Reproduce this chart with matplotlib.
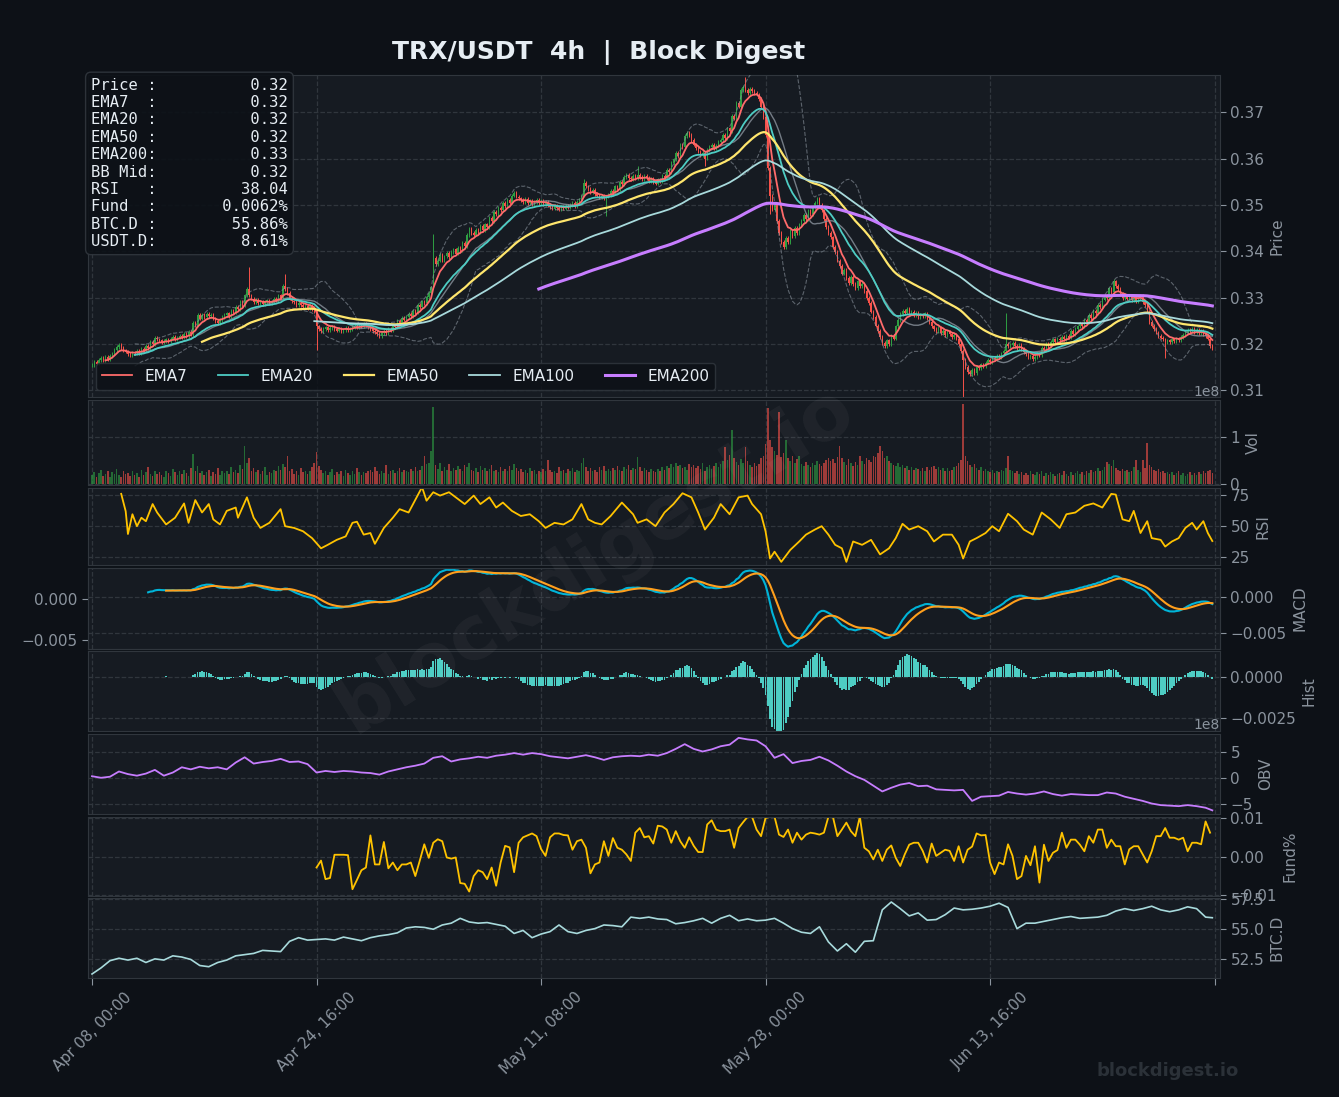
import numpy as np
import pandas as pd
import matplotlib
matplotlib.use("Agg")
import matplotlib.pyplot as plt
from matplotlib.ticker import MultipleLocator, FuncFormatter

# closes of the 500 4h candles, in units of 0.0001 USDT
close_e4 = [
    3155, 3162, 3158, 3166, 3170, 3165, 3172, 3168, 3175, 3180,
    3188, 3194, 3198, 3192, 3186, 3184, 3178, 3176, 3182, 3180,
    3186, 3181, 3190, 3186, 3196, 3192, 3205, 3200, 3214, 3210,
    3208, 3204, 3207, 3210, 3206, 3212, 3215, 3210, 3214, 3218,
    3216, 3221, 3217, 3226, 3222, 3245, 3240, 3262, 3255, 3262,
    3258, 3265, 3260, 3262, 3255, 3250, 3246, 3252, 3258, 3262,
    3266, 3260, 3272, 3268, 3280, 3276, 3290, 3285, 3305, 3318,
    3305, 3298, 3290, 3295, 3288, 3292, 3286, 3290, 3294, 3288,
    3292, 3298, 3294, 3305, 3300, 3325, 3318, 3310, 3298, 3292,
    3290, 3285, 3288, 3284, 3280, 3283, 3278, 3282, 3276, 3270,
    3238, 3232, 3228, 3232, 3236, 3230, 3234, 3238, 3232, 3229,
    3232, 3228, 3231, 3235, 3230, 3233, 3237, 3240, 3236, 3242,
    3238, 3244, 3240, 3236, 3232, 3228, 3226, 3222, 3218, 3224,
    3228, 3224, 3232, 3229, 3240, 3236, 3250, 3246, 3256, 3253,
    3258, 3265, 3261, 3272, 3268, 3284, 3279, 3292, 3288, 3302,
    3310, 3322, 3385, 3372, 3380, 3392, 3381, 3389, 3396, 3388,
    3398, 3404, 3395, 3408, 3402, 3418, 3412, 3435, 3448, 3440,
    3436, 3446, 3441, 3455, 3446, 3458, 3453, 3472, 3466, 3484,
    3480, 3494, 3489, 3504, 3498, 3510, 3505, 3520, 3526, 3518,
    3514, 3510, 3506, 3512, 3504, 3508, 3502, 3506, 3510, 3504,
    3508, 3502, 3506, 3500, 3496, 3492, 3498, 3494, 3490, 3496,
    3492, 3498, 3495, 3500, 3504, 3498, 3506, 3510, 3520, 3548,
    3540, 3535, 3528, 3532, 3524, 3520, 3516, 3520, 3514, 3518,
    3522, 3530, 3526, 3540, 3535, 3550, 3545, 3560, 3565, 3558,
    3555, 3562, 3558, 3565, 3560, 3556, 3562, 3558, 3552, 3556,
    3550, 3546, 3555, 3551, 3562, 3558, 3575, 3570, 3590, 3598,
    3612, 3606, 3630, 3625, 3648, 3655, 3650, 3640, 3630, 3622,
    3615, 3608, 3612, 3600, 3618, 3625, 3630, 3622, 3628, 3635,
    3640, 3650, 3645, 3665, 3660, 3692, 3686, 3720, 3712, 3748,
    3755, 3748, 3742, 3750, 3745, 3742, 3738, 3728, 3712, 3690,
    3650, 3580, 3520, 3490, 3500, 3465, 3440, 3420, 3410, 3428,
    3420, 3445, 3432, 3450, 3440, 3458, 3465, 3478, 3470, 3488,
    3480, 3495, 3505, 3512, 3500, 3488, 3470, 3452, 3440, 3430,
    3410, 3398, 3380, 3368, 3352, 3360, 3342, 3332, 3345, 3330,
    3320, 3335, 3325, 3330, 3315, 3300, 3288, 3270, 3258, 3240,
    3228, 3215, 3202, 3195, 3208, 3200, 3218, 3212, 3238, 3252,
    3265, 3272, 3268, 3275, 3266, 3270, 3262, 3268, 3258, 3264,
    3260, 3266, 3255, 3248, 3238, 3232, 3228, 3234, 3224, 3228,
    3220, 3226, 3222, 3216, 3220, 3212, 3200, 3185, 3165, 3150,
    3140, 3135, 3145, 3138, 3150, 3148, 3156, 3152, 3160, 3165,
    3162, 3170, 3168, 3175, 3172, 3180, 3185, 3200, 3195, 3198,
    3202, 3196, 3192, 3198, 3190, 3182, 3178, 3172, 3175, 3168,
    3172, 3180, 3176, 3192, 3187, 3200, 3196, 3205, 3210, 3204,
    3212, 3208, 3215, 3210, 3218, 3214, 3228, 3222, 3232, 3238,
    3244, 3239, 3252, 3248, 3262, 3257, 3272, 3266, 3285, 3280,
    3296, 3305, 3299, 3320, 3313, 3335, 3325, 3318, 3308, 3300,
    3305, 3298, 3302, 3295, 3300, 3292, 3298, 3304, 3290, 3285,
    3270, 3248, 3240, 3232, 3225, 3218, 3214, 3210, 3205, 3208,
    3204, 3210, 3206, 3212, 3208, 3215, 3220, 3225, 3230, 3228,
    3232, 3226, 3230, 3224, 3228, 3222, 3218, 3212, 3196, 3192,
]

# volume per candle, in millions
vol_m = [
    18, 25, 14, 22, 30, 16, 20, 27, 15, 24,
    21, 32, 18, 14, 26, 20, 23, 17, 28, 19,
    22, 15, 30, 18, 24, 35, 20, 16, 27, 21,
    25, 19, 14, 28, 22, 17, 31, 24, 18, 26,
    20, 29, 23, 16, 34, 63, 28, 38, 22, 26,
    19, 24, 30, 17, 25, 21, 33, 18, 27, 23,
    26, 20, 35, 24, 29, 22, 40, 31, 80, 45,
    55, 28, 33, 24, 30, 21, 27, 36, 19, 25,
    23, 30, 26, 38, 29, 42, 35, 60, 28, 32,
    21, 27, 19, 33, 24, 28, 20, 26, 35, 44,
    68, 38, 30, 22, 27, 19, 25, 31, 18, 24,
    20, 26, 17, 29, 22, 18, 27, 21, 33, 24,
    19, 25, 22, 28, 30, 24, 36, 27, 21, 26,
    23, 39, 20, 26, 30, 22, 28, 33, 25, 30,
    27, 24, 32, 28, 35, 26, 30, 38, 60, 42,
    45, 70, 166, 40, 32, 45, 28, 36, 30, 42,
    26, 34, 29, 38, 31, 27, 40, 35, 45, 30,
    28, 33, 25, 37, 29, 34, 27, 31, 39, 26,
    30, 25, 35, 28, 32, 26, 38, 30, 42, 33,
    27, 31, 24, 29, 22, 34, 26, 30, 21, 28,
    25, 32, 27, 51, 30, 24, 28, 22, 35, 26,
    29, 23, 31, 26, 33, 25, 30, 28, 45, 55,
    36, 28, 33, 26, 30, 24, 35, 29, 38, 27,
    31, 26, 34, 29, 37, 30, 28, 35, 32, 40,
    29, 34, 31, 57, 36, 27, 33, 30, 25, 31,
    28, 24, 32, 27, 35, 30, 38, 33, 42, 36,
    45, 38, 40, 34, 36, 30, 42, 35, 39, 33,
    37, 31, 44, 28, 35, 40, 32, 38, 45, 36,
    42, 48, 79, 50, 62, 115, 55, 47, 40, 52,
    44, 79, 48, 40, 36, 45, 38, 42, 55, 60,
    85, 163, 95, 79, 70, 62, 155, 58, 66, 93,
    55, 48, 60, 44, 52, 60, 42, 38, 46, 40,
    36, 45, 39, 48, 42, 37, 44, 50, 56, 48,
    52, 45, 58, 82, 55, 47, 40, 52, 44, 38,
    46, 40, 60, 48, 42, 55, 51, 47, 60, 58,
    65, 82, 70, 56, 60, 48, 45, 40, 38, 44,
    35, 40, 33, 38, 30, 36, 29, 34, 31, 27,
    33, 28, 35, 30, 35, 38, 32, 36, 30, 34,
    28, 33, 26, 30, 35, 38, 45, 50, 172, 60,
    48, 40, 36, 42, 33, 30, 35, 28, 31, 26,
    24, 29, 22, 27, 25, 30, 28, 34, 60, 30,
    26, 22, 28, 20, 25, 18, 23, 19, 27, 21,
    18, 24, 20, 26, 17, 22, 19, 25, 21, 16,
    20, 23, 18, 26, 21, 17, 24, 19, 22, 28,
    21, 25, 19, 27, 23, 30, 24, 28, 33, 26,
    30, 35, 46, 42, 38, 50, 34, 30, 27, 32,
    26, 30, 24, 28, 35, 50, 29, 25, 51, 33,
    88, 40, 35, 29, 26, 31, 24, 28, 22, 25,
    20, 24, 18, 22, 26, 19, 23, 17, 21, 25,
    19, 22, 18, 24, 20, 28, 23, 26, 30, 22,
]

# wicks that stick out well beyond the bodies (candle index: price e-4)
wick_high_e4 = {70: 3367, 86: 3352, 152: 3437, 219: 3555, 243: 3583,
                291: 3775, 407: 3266, 455: 3340}
wick_low_e4 = {100: 3187, 229: 3476, 273: 3583, 302: 3480, 388: 3085,
               478: 3170}

# RSI (candle index, value)
rsi_idx = [13, 15, 16, 18, 20, 22, 24, 27, 29, 33, 37, 41, 43, 46, 49, 52, 54, 57,
           60, 64, 65, 69, 72, 75, 79, 84, 86, 90, 94, 98, 102, 105, 109, 113, 116,
           118, 121, 124, 126, 130, 134, 137, 141, 143, 147, 149, 152, 155, 159,
           162, 166, 170, 173, 177, 180, 183, 187, 191, 195, 199, 202, 206, 210,
           214, 218, 221, 224, 227, 231, 236, 241, 243, 247, 251, 255, 259, 263,
           267, 270, 273, 277, 280, 284, 288, 292, 294, 298, 300, 302, 304, 307,
           311, 315, 318, 322, 325, 328, 331, 334, 336, 339, 343, 347, 351, 355,
           358, 361, 364, 368, 372, 375, 379, 383, 386, 388, 391, 394, 398, 401,
           404, 408, 412, 415, 419, 423, 427, 431, 434, 438, 442, 446, 450, 454,
           456, 459, 462, 464, 467, 470, 472, 476, 478, 481, 484, 487, 490, 492,
           495, 497, 499]
rsi_val = [76, 62, 43.7, 59.6, 50, 56.8, 54, 67.8, 61, 51.4, 56.8, 68.3, 52.7, 71,
           61, 67.8, 55.5, 51.4, 62.3, 65, 56.8, 73.2, 56.8, 48.6, 52.7, 63.7, 50,
           48.6, 45.9, 40.4, 32.2, 35, 39, 41.8, 52.7, 53.6, 43.2, 44.5, 35.8, 48.6,
           56.8, 63.7, 61, 67.8, 81.4, 70.5, 77.3, 74.6, 77.3, 73.2, 67.8, 74.6,
           67.8, 73.2, 65, 69, 62.3, 58.2, 59.6, 54, 48.6, 52.7, 51.4, 55.5, 67.8,
           55.5, 52.7, 51.4, 58.2, 69, 59.6, 52.7, 55.5, 50, 61, 67.8, 76.5, 73.2,
           61, 47.3, 56.8, 67.8, 59.6, 73.2, 74.6, 67.8, 59.6, 45.9, 24, 29.5, 21.3,
           30.9, 37.7, 43.2, 47.3, 50, 43.2, 35, 32.2, 21.3, 37.7, 35, 39, 27.3,
           32.2, 40.4, 51.9, 47.3, 50, 45.9, 37.7, 43.2, 43.2, 35, 24, 37.7, 40.4,
           44.5, 50, 45.9, 60, 54, 47.3, 43.2, 61, 55.5, 48.6, 59.6, 61, 66.4, 68.3,
           65, 76, 75.4, 55.5, 54, 62.3, 44.5, 54, 40.4, 39, 33.6, 37.7, 40.4, 48.6,
           52.7, 47.3, 54, 44.5, 38.04]

# OBV in 1e8, read every 4th candle
obv_idx = list(range(0, 500, 4)) + [499]
obv_e8 = [
    0.3, 0.0, 0.2, 1.2, 0.7, 0.4, 0.8, 1.5, 0.4, 1.0,
    2.0, 1.6, 2.1, 1.8, 2.0, 1.6, 2.9, 3.9, 2.7, 3.0,
    3.2, 3.6, 3.0, 3.1, 2.6, 1.0, 1.3, 1.1, 1.3, 1.2,
    1.0, 0.9, 0.6, 1.2, 1.6, 2.0, 2.3, 2.7, 3.8, 4.1,
    3.1, 3.5, 3.7, 4.0, 3.8, 4.2, 4.4, 4.7, 4.4, 4.7,
    4.5, 4.1, 3.9, 3.7, 4.0, 4.3, 3.9, 3.4, 3.9, 4.1,
    4.2, 4.1, 4.4, 4.2, 4.7, 5.5, 6.4, 5.5, 5.0, 5.4,
    6.0, 6.3, 7.6, 7.3, 7.1, 6.0, 3.8, 4.5, 2.8, 3.2,
    3.4, 4.0, 3.3, 2.3, 1.2, 0.3, -0.4, -1.5, -2.6, -1.9,
    -1.3, -1.0, -1.6, -1.5, -2.2, -2.3, -2.4, -2.3, -4.4, -3.6,
    -3.5, -3.4, -2.7, -3.0, -3.2, -3.0, -2.6, -3.1, -3.4, -3.1,
    -3.2, -3.3, -3.3, -2.8, -3.0, -3.6, -4.0, -4.4, -4.9, -5.2,
    -5.3, -5.4, -5.2, -5.4, -5.7, -6.2,
]

# BTC dominance %, read every 4th candle
btcd_idx = list(range(0, 500, 4)) + [499]
btcd = [
    51.3, 51.8, 52.4, 52.6, 52.45, 52.6, 52.25, 52.55, 52.45, 52.8,
    52.7, 52.5, 52.0, 51.9, 52.25, 52.45, 52.8, 52.9, 53.0, 53.25,
    53.2, 53.15, 54.0, 54.3, 54.1, 54.15, 54.2, 54.1, 54.35, 54.2,
    54.05, 54.3, 54.45, 54.55, 54.7, 55.1, 55.2, 55.15, 55.0, 55.35,
    55.5, 55.9, 55.6, 55.5, 55.55, 55.4, 55.25, 54.65, 54.9, 54.3,
    54.6, 54.8, 55.35, 54.8, 54.65, 54.9, 55.05, 55.35, 55.3, 55.2,
    56.0, 55.9, 56.0, 55.85, 55.8, 55.45, 55.55, 55.7, 55.9, 55.5,
    55.9, 56.15, 55.7, 55.85, 55.7, 55.75, 55.9, 55.5, 55.05, 54.75,
    54.65, 55.2, 53.95, 53.2, 53.8, 53.1, 54.0, 54.05, 56.6, 57.25,
    56.7, 56.1, 56.35, 55.75, 55.8, 56.2, 56.75, 56.6, 56.65, 56.75,
    56.9, 57.15, 56.8, 55.05, 55.5, 55.5, 55.65, 55.8, 55.95, 56.05,
    55.9, 55.95, 56.0, 56.15, 56.5, 56.7, 56.55, 56.7, 56.9, 56.6,
    56.45, 56.6, 56.85, 56.7, 56.0, 55.95,
]

# funding rate, in units of 0.0001 %, every 2nd candle from candle 100
fund_idx = list(range(100, 500, 2))
fund_e4 = [
    -28, -10, -58, -55, 5, 5, 5, 4, -84, -60,
    -35, -28, 55, -20, -20, 38, -30, -15, -35, -20,
    -20, -15, -50, -10, 32, -3, 36, 45, 40, -2,
    -5, -2, -68, -70, -90, -50, -35, -40, -58, -28,
    -75, -15, 28, 24, -40, 36, 50, 55, 60, 53,
    20, 2, 50, 60, 60, 56, 55, 18, 40, 44,
    23, -43, -20, -15, 40, 2, 48, 23, 18, 6,
    -11, 62, 74, 50, 53, 34, 80, 78, 70, 36,
    66, 40, 23, 50, 28, 12, 12, 83, 94, 70,
    66, 66, 70, 23, 74, 89, 103, 103, 70, 53,
    100, 103, 103, 57, 51, 70, 36, 62, 44, 57,
    62, 60, 57, 62, 103, 103, 53, 70, 88, 66,
    53, 103, 23, 14, -7, 18, -11, 18, 29, -3,
    -24, 6, 31, 36, 36, 15, -15, 34, 2, 10,
    18, 15, -11, 27, -15, 18, 26, 60, 55, 56,
    -15, -45, -15, -20, 32, 2, -58, -50, 2, -22,
    27, -67, 31, -11, 10, 17, 62, 23, 44, 44,
    31, 14, 53, 36, 70, 70, 23, 44, 27, 27,
    -20, 19, 27, 27, 6, -15, 14, 53, 53, 74,
    49, 49, 44, 49, 14, 36, 36, 32, 91, 62,
]

info_labels = ["Price :", "EMA7  :", "EMA20 :", "EMA50 :", "EMA200:",
               "BB Mid:", "RSI   :", "Fund  :", "BTC.D :", "USDT.D:"]
info_values = ["0.32", "0.32", "0.32", "0.32", "0.33",
               "0.32", "38.04", "0.0062%", "55.86%", "8.61%"]

start_time = "2025-04-08 00:00"

# ---- indicators from the closes ----
c = pd.Series(np.array(close_e4) / 1e4)
n = len(c)
x = np.arange(n)
o = c.shift(1).fillna(c.iloc[0])
vol = np.array(vol_m) * 1e6
up = (c >= o).values

emas = {p: c.ewm(span=p, adjust=False, min_periods=p).mean() for p in (7, 20, 50, 100, 200)}
bb_mid = c.rolling(20).mean()
bb_sd = c.rolling(20).std()
bb_up = bb_mid + 2 * bb_sd
bb_lo = bb_mid - 2 * bb_sd

fast = c.ewm(span=12, adjust=False, min_periods=12).mean()
slow = c.ewm(span=26, adjust=False, min_periods=26).mean()
macd = fast - slow
signal = macd.ewm(span=9, adjust=False, min_periods=9).mean()
hist = macd - signal

times = pd.date_range(start_time, periods=n, freq="4h")

# ---- style ----
BG = "#0d1117"
PANEL = "#161b22"
EDGE = "#30363d"
MUTED = "#8b949e"
WHITE = "#e6edf3"
GREEN = "#2ea043"
RED = "#f85149"

fig = plt.figure(figsize=(13.39, 10.97), dpi=100, facecolor=BG)
gs = fig.add_gridspec(8, 1, height_ratios=[4.05, 1.07, 0.97, 1.01, 1, 1.01, 0.99, 1],
                      left=0.0657, right=0.9111, top=0.9316, bottom=0.1085,
                      hspace=0.025)
axes = [fig.add_subplot(gs[0])]
for k in range(1, 8):
    axes.append(fig.add_subplot(gs[k], sharex=axes[0]))
ax_p, ax_v, ax_r, ax_m, ax_h, ax_o, ax_f, ax_b = axes

# MACD panel carries a second scale on the left
tw = ax_m.twinx()

for ax in axes:
    ax.set_facecolor(PANEL)
    for s in ax.spines.values():
        s.set_color(EDGE)
    ax.yaxis.tick_right()
    ax.yaxis.set_label_position("right")
    ax.tick_params(colors=MUTED, labelcolor=MUTED, labelsize=11, length=4)
    ax.grid(True, color=EDGE, linestyle="--", linewidth=0.9)
    ax.set_axisbelow(True)
    if ax is not axes[-1]:
        ax.tick_params(axis="x", labelbottom=False, length=0)

# price panel
col = np.where(up, GREEN, RED)
hi = np.maximum(o, c).values + 0.0004
lo = np.minimum(o, c).values - 0.0004
for k, v in wick_high_e4.items():
    hi[k] = v / 1e4
for k, v in wick_low_e4.items():
    lo[k] = v / 1e4
ax_p.vlines(x, lo, hi, colors=col, linewidth=0.7, zorder=2)
body = np.maximum(np.abs(c - o).values, 0.00008)
ax_p.bar(x, body, bottom=np.minimum(o, c).values, width=0.6, color=col, zorder=2)

ax_p.plot(x, bb_up, color=MUTED, lw=0.8, ls="--", alpha=0.6, zorder=3)
ax_p.plot(x, bb_lo, color=MUTED, lw=0.8, ls="--", alpha=0.6, zorder=3)
ax_p.plot(x, bb_mid, color=MUTED, lw=1.0, alpha=0.8, zorder=3)

ema_style = [(7, "#ff6b6b", 1.3), (20, "#4ecdc4", 1.3), (50, "#ffe66d", 1.6),
             (100, "#a8dadc", 1.3), (200, "#c77dff", 2.2)]
for p, colr, lw in ema_style:
    ax_p.plot(x, emas[p], color=colr, lw=lw, label=f"EMA{p}", zorder=4)

ax_p.set_ylim(0.3085, 0.378)
ax_p.yaxis.set_major_locator(MultipleLocator(0.01))
ax_p.set_ylabel("Price", color=MUTED, fontsize=11)
leg = ax_p.legend(loc="lower left", ncol=5, fontsize=11, facecolor=BG,
                  edgecolor=EDGE, labelcolor=WHITE, framealpha=0.85)
leg.set_zorder(10)

info = "\n".join(f"{a}{b:>14}" for a, b in zip(info_labels, info_values))
ax_p.text(0.0027, 0.992, info, transform=ax_p.transAxes, va="top", ha="left",
          family="DejaVu Sans Mono", fontsize=11.2, color=WHITE, zorder=11,
          bbox=dict(boxstyle="round,pad=0.35", facecolor=BG, edgecolor=EDGE, alpha=0.92))

# volume
ax_v.bar(x, vol, width=0.7, color=col, alpha=0.6)
ax_v.set_ylim(-0.04e8, 1.8e8)
ax_v.yaxis.set_major_locator(MultipleLocator(1e8))
ax_v.set_ylabel("Vol", color=MUTED, fontsize=11)

# RSI
ax_r.plot(rsi_idx, rsi_val, color="#ffc300", lw=1.3)
ax_r.set_ylim(18.5, 80.6)
ax_r.yaxis.set_major_locator(MultipleLocator(25))
ax_r.set_ylabel("RSI", color=MUTED, fontsize=11)

# MACD
ax_m.plot(x, macd, color="#00b4d8", lw=1.5)
ax_m.plot(x, signal, color="#ff9f1c", lw=1.5)
ax_m.set_ylim(-0.00722, 0.00403)
ax_m.yaxis.set_major_locator(MultipleLocator(0.005))
ax_m.set_ylabel("MACD", color=MUTED, fontsize=11)
tw.yaxis.tick_left()
tw.set_ylim(-0.0061, 0.00378)
tw.yaxis.set_major_locator(MultipleLocator(0.005))
tw.tick_params(colors=MUTED, labelcolor=MUTED, labelsize=11, length=4)
for s in tw.spines.values():
    s.set_color(EDGE)

# histogram
ax_h.bar(x, hist, width=0.8, color="#4ecdc4")
ax_h.set_ylim(-0.00329, 0.00159)
ax_h.yaxis.set_major_locator(MultipleLocator(0.0025))
ax_h.set_ylabel("Hist", color=MUTED, fontsize=11)

# OBV
ax_o.plot(obv_idx, np.array(obv_e8) * 1e8, color="#c77dff", lw=1.3)
ax_o.set_ylim(-6.9e8, 8.4e8)
ax_o.yaxis.set_major_locator(MultipleLocator(5e8))
ax_o.set_ylabel("OBV", color=MUTED, fontsize=11)

# funding
ax_f.plot(fund_idx, np.array(fund_e4) / 1e4, color="#ffc300", lw=1.3)
ax_f.set_ylim(-0.01005, 0.0103)
ax_f.yaxis.set_major_locator(MultipleLocator(0.01))
ax_f.set_ylabel("Fund%", color=MUTED, fontsize=11)

# BTC dominance
ax_b.plot(btcd_idx, btcd, color="#a8dadc", lw=1.2)
ax_b.set_ylim(50.97, 57.55)
ax_b.yaxis.set_major_locator(MultipleLocator(2.5))
ax_b.set_ylabel("BTC.D", color=MUTED, fontsize=11)


def fmt_time(v, pos):
    k = int(round(v))
    if 0 <= k < n:
        return times[k].strftime("%b %d, %H:%M")
    return ""


ax_b.set_xlim(-1.8, 502.4)
ax_b.xaxis.set_major_locator(MultipleLocator(100))
ax_b.xaxis.set_major_formatter(FuncFormatter(fmt_time))
ax_b.tick_params(axis="x", labelrotation=45, length=5)

fig.text(0.447, 0.952, "TRX/USDT  4h  |  Block Digest", ha="center", va="center",
         fontsize=18, fontweight="bold", color=WHITE)
fig.text(0.445, 0.49, "blockdigest.io", ha="center", va="center", rotation=32,
         fontsize=54, fontweight="bold", color="white", alpha=0.045, zorder=20)
fig.text(0.925, 0.024, "blockdigest.io", ha="right", va="center",
         fontsize=13, fontweight="bold", color="#2b3138")

fig.savefig("out.png", dpi=100, facecolor=BG)
